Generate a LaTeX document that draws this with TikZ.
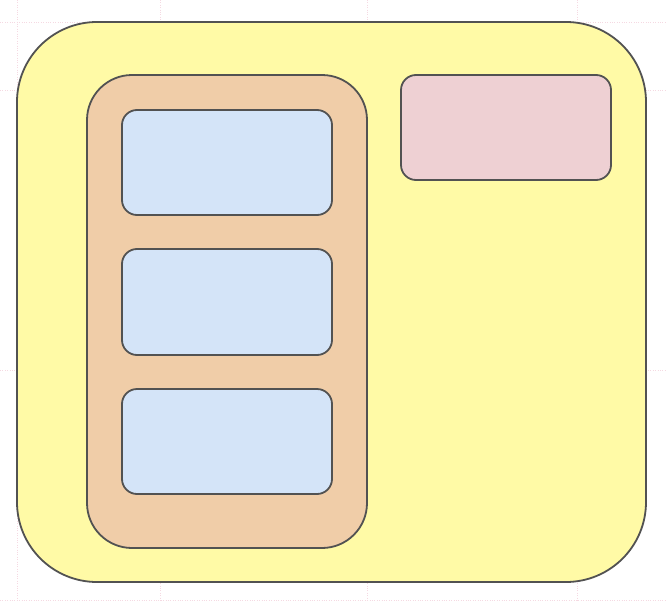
\documentclass[tikz,border=0pt]{standalone}
\begin{document}
\begin{tikzpicture}[x=1pt,y=-1pt,
  box/.style={draw=black!68, line width=1.8pt},
  gridline/.style={draw=blue!25!red!15, line width=0.4pt, dotted}]
\definecolor{yel}{RGB}{255,250,166}
\definecolor{ora}{RGB}{240,205,168}
\definecolor{blu}{RGB}{212,228,248}
\definecolor{pnk}{RGB}{238,208,211}
\useasboundingbox (0,0) rectangle (666,602);
\fill[white] (0,0) rectangle (666,602);
\foreach \x in {17,160,367,577} \draw[gridline] (\x,0) -- (\x,602);
\foreach \y in {22,90,370,600} \draw[gridline] (0,\y) -- (666,\y);
\draw[box, fill=yel, rounded corners=80pt] (17,22) rectangle (646,582);
\draw[box, fill=ora, rounded corners=45pt] (87,75) rectangle (367,548);
\draw[box, fill=blu, rounded corners=15pt] (122,110) rectangle (332,215);
\draw[box, fill=blu, rounded corners=15pt] (122,249) rectangle (332,355);
\draw[box, fill=blu, rounded corners=15pt] (122,389) rectangle (332,494);
\draw[box, fill=pnk, rounded corners=15pt] (401,75) rectangle (611,180);
\end{tikzpicture}
\end{document}
